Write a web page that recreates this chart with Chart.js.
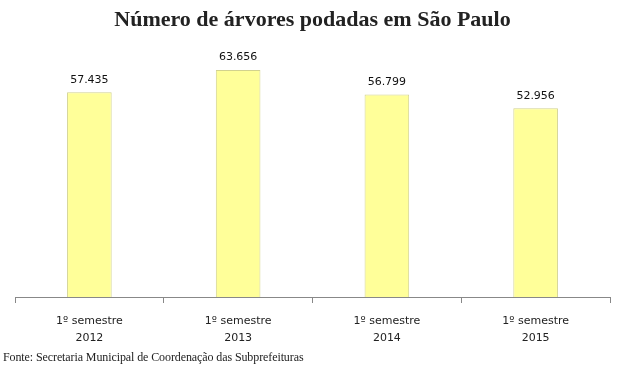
<!DOCTYPE html>
<html lang="pt-BR">
<head>
<meta charset="utf-8">
<title>Número de árvores podadas em São Paulo</title>
<script src="https://cdn.jsdelivr.net/npm/chart.js@4.4.1/dist/chart.umd.min.js"></script>
<style>
    html, body { margin: 0; padding: 0; background: #ffffff; }
    #wrap { position: relative; width: 625px; height: 375px; }
    #source {
        position: absolute; left: 3px; top: 350px;
        font-family: 'Liberation Serif', serif; font-size: 12px;
        letter-spacing: -0.1px; color: #222;
    }
</style>
</head>
<body>
<div id="wrap">
    <canvas id="chart" width="625" height="375"></canvas>
    <div id="source">Fonte: Secretaria Municipal de Coordenação das Subprefeituras</div>
</div>
<script>
// Chart data
const periods = [['1º semestre', '2012'], ['1º semestre', '2013'], ['1º semestre', '2014'], ['1º semestre', '2015']];
const trees = [57435, 63656, 56799, 52956];

// Format numbers pt-BR style (57.435)
function formatNumber(value) {
    return value.toString().replace(/\B(?=(\d{3})+(?!\d))/g, '.');
}

// Draw value labels above each bar
const valueLabels = {
    id: 'valueLabels',
    afterDatasetsDraw(chart) {
        const ctx = chart.ctx;
        const meta = chart.getDatasetMeta(0);
        ctx.save();
        ctx.font = '11px "DejaVu Sans", sans-serif';
        ctx.fillStyle = '#111';
        ctx.textAlign = 'center';
        ctx.textBaseline = 'bottom';
        meta.data.forEach((bar, i) => {
            ctx.fillText(formatNumber(trees[i]), bar.x, bar.y - 7);
        });
        ctx.restore();
    }
};

new Chart(document.getElementById('chart'), {
    type: 'bar',
    data: {
        labels: periods,
        datasets: [{
            data: trees,
            backgroundColor: '#FFFF99',
            borderColor: '#D2D28E',
            borderWidth: 1,
            categoryPercentage: 0.3,
            barPercentage: 1
        }]
    },
    options: {
        responsive: false,
        animation: false,
        layout: { padding: { left: 15, right: 15, bottom: 19 } },
        plugins: {
            legend: { display: false },
            tooltip: { enabled: false },
            title: {
                display: true,
                text: 'Número de árvores podadas em São Paulo',
                color: '#222',
                font: { family: '"Liberation Serif", serif', size: 22, weight: 'bold' },
                padding: { top: 7, bottom: 14 }
            }
        },
        scales: {
            x: {
                grid: { display: true, drawOnChartArea: false, drawTicks: true, tickLength: 6, color: '#888', offset: true },
                border: { display: true, color: '#888' },
                ticks: {
                    color: '#222',
                    padding: 10,
                    font: { family: '"DejaVu Sans", sans-serif', size: 11, lineHeight: 1.5 }
                }
            },
            y: {
                display: false,
                min: 0,
                max: 70000
            }
        }
    },
    plugins: [valueLabels]
});
</script>
</body>
</html>
